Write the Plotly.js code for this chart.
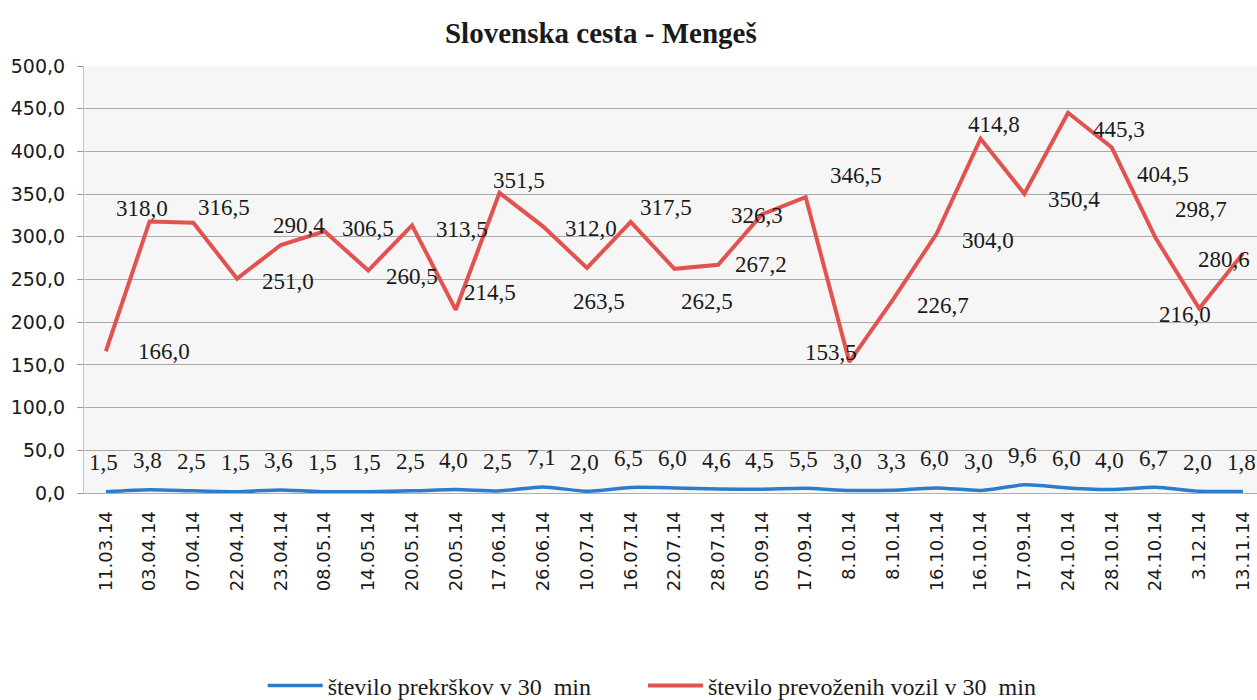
<!DOCTYPE html>
<html>
<head>
<meta charset="utf-8">
<script src="https://cdn.plot.ly/plotly-3.0.1.min.js"></script>
<style>
  html, body { margin: 0; padding: 0; background: #ffffff; }
  #chart { width: 1257px; height: 700px; }
</style>
</head>
<body>
<div id="chart"></div>
<script>
// ---- data ----
const categories = ['11.03.14','03.04.14','07.04.14','22.04.14','23.04.14','08.05.14','14.05.14','20.05.14','20.05.14','17.06.14','26.06.14','10.07.14','16.07.14','22.07.14','28.07.14','05.09.14','17.09.14','8.10.14','8.10.14','16.10.14','16.10.14','17.09.14','24.10.14','28.10.14','24.10.14','3.12.14','13.11.14'];
const prekrski = [1.5,3.8,2.5,1.5,3.6,1.5,1.5,2.5,4.0,2.5,7.1,2.0,6.5,6.0,4.6,4.5,5.5,3.0,3.3,6.0,3.0,9.6,6.0,4.0,6.7,2.0,1.8];
const vozila = [166.0,318.0,316.5,251.0,290.4,306.5,260.5,313.5,214.5,351.5,312.0,263.5,317.5,262.5,267.2,326.3,346.5,153.5,226.7,304.0,414.8,350.4,445.3,404.5,298.7,216.0,280.6];
const seriesNames = ['število prekrškov v 30  min', 'število prevoženih vozil v 30  min'];
const chartTitle = 'Slovenska cesta - Mengeš';

// ---- label placement offsets (pixels) ----
const redDx = [58,-8,31,51,18,43,44,50,34,20,48,12,35,33,43,-5,50,-18,50,51,13,50,51,51,45,-14,-19];
const redDy = [0,-13,-15,3,-20,-3,6,4,-17,-12,2,34,-14,33,0,1,-22,-9,6,7,-14,6,17,27,-28,6,6];

const xIdx = categories.map((_, i) => i);
const fmt = v => v.toFixed(1).replace('.', ',');

const serif = '"Liberation Serif", "Times New Roman", Times, serif';
const sans = '"DejaVu Sans", Verdana, sans-serif';
const blue = '#2b7dc9';
const red = '#e2534f';
const labelFont = { family: serif, size: 23, color: '#1a1a1a' };

const annotations = [];
vozila.forEach((v, i) => {
  annotations.push({
    x: xIdx[i], y: v, xref: 'x', yref: 'y', text: fmt(v), showarrow: false,
    xshift: redDx[i], yshift: -redDy[i], font: labelFont
  });
});
prekrski.forEach((v, i) => {
  annotations.push({
    x: xIdx[i], y: v, xref: 'x', yref: 'y', text: fmt(v), showarrow: false,
    xshift: -2, yshift: 29, font: labelFont
  });
});

const traces = [
  { x: xIdx, y: prekrski, type: 'scatter', mode: 'lines', name: seriesNames[0],
    line: { color: blue, width: 3.5, shape: 'spline', smoothing: 0.6 }, legend: 'legend' },
  { x: xIdx, y: vozila, type: 'scatter', mode: 'lines', name: seriesNames[1],
    line: { color: red, width: 4 }, legend: 'legend2' }
];

const legendFont = { family: serif, size: 24, color: '#1a1a1a' };
const xRange = [-0.5, 26.32];
const layout = {
  width: 1257, height: 700,
  margin: { l: 84, r: 0, t: 66, b: 207 },
  paper_bgcolor: '#ffffff',
  plot_bgcolor: '#f6f6f6',
  separators: ', ',
  title: {
    text: chartTitle,
    font: { family: serif, size: 29, weight: 700, color: '#1a1a1a' },
    xref: 'container', yref: 'container', x: 0.478, xanchor: 'center', y: 0.953, yanchor: 'middle'
  },
  xaxis: {
    range: xRange, tickmode: 'array', tickvals: xIdx, ticktext: categories,
    tickangle: -90, ticks: '', showgrid: false, zeroline: false,
    showline: true, linecolor: '#b0b0b0', linewidth: 1,
    tickfont: { family: sans, size: 18, color: '#1a1a1a' },
    ticklabelstandoff: 10
  },
  xaxis2: {
    overlaying: 'x', anchor: 'y', side: 'bottom', range: xRange,
    tickmode: 'linear', tick0: -0.5, dtick: 1, ticks: 'outside', ticklen: 5,
    tickcolor: '#9a9a9a', showticklabels: false, showgrid: false, zeroline: false, showline: false
  },
  yaxis: {
    range: [0, 500], dtick: 50, tickformat: '.1f',
    showgrid: true, gridcolor: '#a9a9a9', gridwidth: 1,
    zeroline: false, showline: true, linecolor: '#c4c4c4', linewidth: 1,
    ticks: 'outside', ticklen: 6, tickcolor: '#9a9a9a',
    tickfont: { family: sans, size: 19, color: '#1a1a1a' },
    ticklabelstandoff: 8
  },
  showlegend: true,
  legend: {
    orientation: 'h', xref: 'container', yref: 'container',
    x: 0.209, xanchor: 'left', y: 0.02, yanchor: 'middle',
    font: legendFont, itemwidth: 55, bgcolor: 'rgba(0,0,0,0)'
  },
  legend2: {
    orientation: 'h', xref: 'container', yref: 'container',
    x: 0.5115, xanchor: 'left', y: 0.02, yanchor: 'middle',
    font: legendFont, itemwidth: 55, bgcolor: 'rgba(0,0,0,0)'
  },
  annotations: annotations
};

Plotly.newPlot('chart', traces, layout, { displayModeBar: false, staticPlot: true });
</script>
</body>
</html>
